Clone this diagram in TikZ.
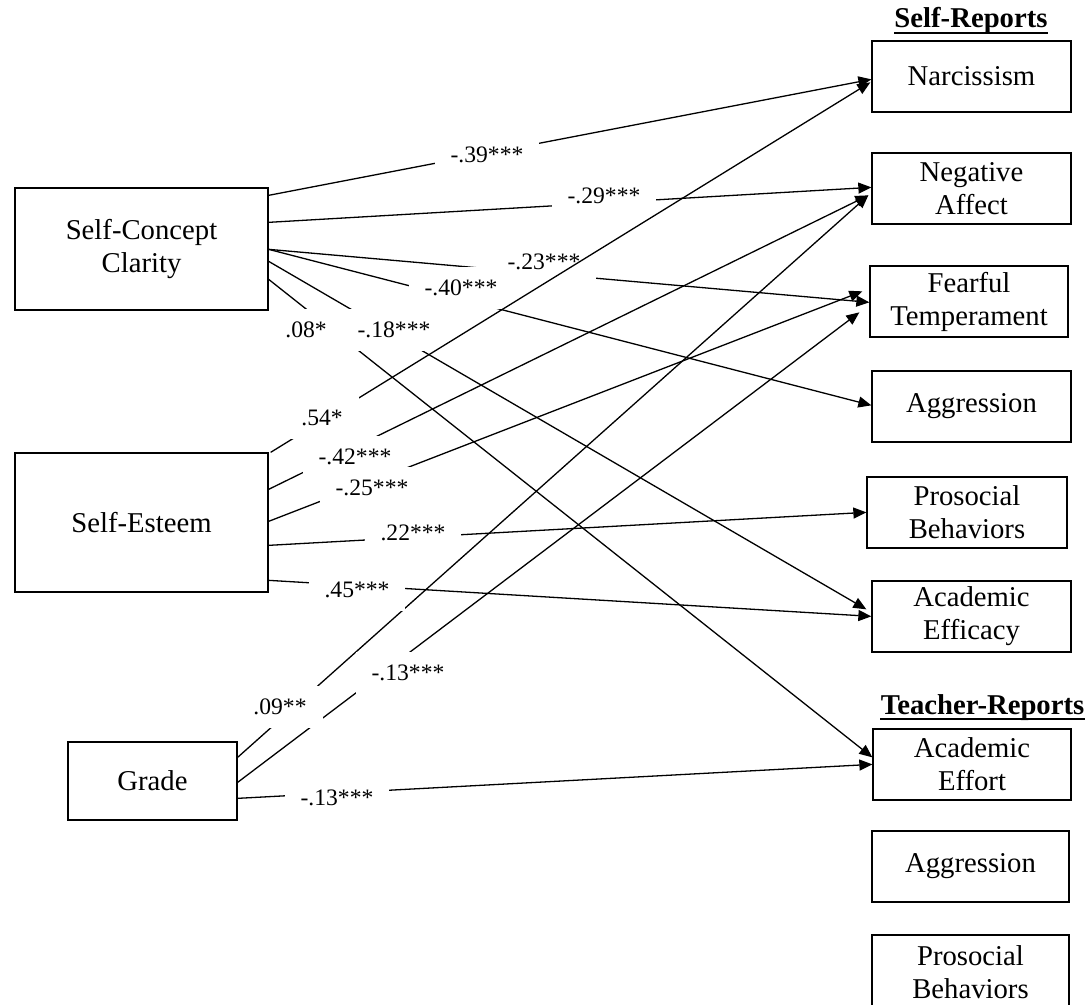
\documentclass[tikz,border=0pt]{standalone}
\usepackage{fontspec}
\setmainfont{Liberation Serif}
\usetikzlibrary{arrows.meta,calc}
\begin{document}
\begin{tikzpicture}[x=0.5pt,y=-0.5pt,
  box/.style={draw, line width=0.65pt, inner sep=0pt, align=center, font=\fontsize{14.35}{16.5}\selectfont},
  rbox/.style={box, minimum width=99.5pt, minimum height=35.5pt},
  arr/.style={line width=0.65pt, -{Triangle[length=6.5pt,width=5.5pt]}},
  lbl/.style={fill=white, inner xsep=8pt, inner ysep=6.5pt, font=\fontsize{11.8}{13}\selectfont},
  hdr/.style={font=\fontsize{14.35}{16.5}\selectfont\bfseries, inner sep=0pt, anchor=base},
  uline/.style={line width=1pt}]
\useasboundingbox (0,0) rectangle (1086,1005);

% left boxes
\node[box, minimum width=126.5pt, minimum height=61pt] (scc) at (141.5,249) {Self-Concept\\Clarity};
\node[box, minimum width=126.5pt, minimum height=69.5pt] (se) at (141.5,522.5) {Self-Esteem};
\node[box, minimum width=84.5pt, minimum height=39pt] (grade) at (152.5,781) {Grade};

% headings
\node[hdr] (hself) at (971,28) {Self-Reports};
\draw[uline] ($(hself.base west)+(0,5)$) -- ($(hself.base east)+(0,5)$);
\node[hdr] (hteach) at (982.5,714) {Teacher-Reports};
\draw[uline] ($(hteach.base west)+(0,5)$) -- ($(hteach.base east)+(0,5)$);

% right boxes
\node[rbox] (narc) at (971.5,76.5) {Narcissism};
\node[rbox] (neg) at (971.5,188.5) {Negative\\Affect};
\node[rbox, minimum width=99pt] (fear) at (969,301.5) {Fearful\\Temperament};
\node[rbox] (aggr) at (971.5,406.5) {Aggression};
\node[rbox, minimum width=100pt] (pro) at (967,512.5) {Prosocial\\Behaviors};
\node[rbox] (eff) at (971.5,616.5) {Academic\\Efficacy};
\node[rbox, minimum width=99pt] (effort) at (972,764.5) {Academic\\Effort};
\node[rbox, minimum width=98.5pt] (taggr) at (970.5,866.5) {Aggression};
\node[rbox, minimum width=98.5pt, minimum height=37pt] (tpro) at (970.5,972) {Prosocial\\Behaviors};

% Self-Concept Clarity paths
\draw[arr] ($(scc.north east)+(0,8)$) -- ($(narc.north west)+(0,39)$);
\draw[arr] ($(scc.north east)+(0,35)$) -- ($(neg.north west)+(0,35)$);
\draw[arr] ($(scc.north east)+(0,62)$) -- ($(fear.north west)+(0,37)$);
\draw[arr] ($(scc.north east)+(0,62)$) -- ($(aggr.north west)+(0,35)$);
\draw[arr] ($(scc.north east)+(0,74)$) -- ($(eff.north west)+(-5,29)$);
\draw[arr] ($(scc.north east)+(0,92)$) -- ($(effort.north west)+(0,29)$);
\node[lbl] (l39) at (487,155) {-.39***};
\node[lbl] (l29) at (604,196) {-.29***};
\node[lbl] (l23) at (544,262) {-.23***};
\node[lbl] (l40) at (461,288) {-.40***};
\node[lbl] (l08) at (306,330) {.08*};
\node[lbl] (l18) at (394,330) {-.18***};

% Grade paths
\draw[arr] ($(grade.north east)+(0,16)$) -- ($(neg.north west)+(-3,43)$);
\draw[arr] ($(grade.north east)+(0,41)$) -- ($(fear.north west)+(-10,47)$);
\draw[arr] ($(grade.north east)+(0,57)$) -- ($(effort.north west)+(0,36)$);

% Self-Esteem paths
\draw[arr] ($(se.north east)+(2,0)$) -- ($(narc.north west)+(-1,42)$);
\draw[arr] ($(se.north east)+(0,37)$) -- ($(neg.north west)+(-3,43)$);
\draw[arr] ($(se.north east)+(0,69)$) -- ($(fear.north west)+(-7,26)$);
\draw[arr] ($(se.north east)+(0,93)$) -- ($(pro.north west)+(0,36)$);
\draw[arr] ($(se.north east)+(0,128)$) -- ($(eff.north west)+(0,36)$);
\node[lbl] (l54) at (322,418) {.54*};
\node[lbl] (l42) at (355,457) {-.42***};
\node[lbl] (l25) at (372,488) {-.25***};
\node[lbl] (l22) at (413,533) {.22***};
\node[lbl] (l45) at (357,590) {.45***};

% Grade labels
\node[lbl] (l09) at (280,707) {.09**};
\node[lbl] (l13a) at (408,673) {-.13***};
\node[lbl] (l13b) at (337,798) {-.13***};
\end{tikzpicture}
\end{document}
